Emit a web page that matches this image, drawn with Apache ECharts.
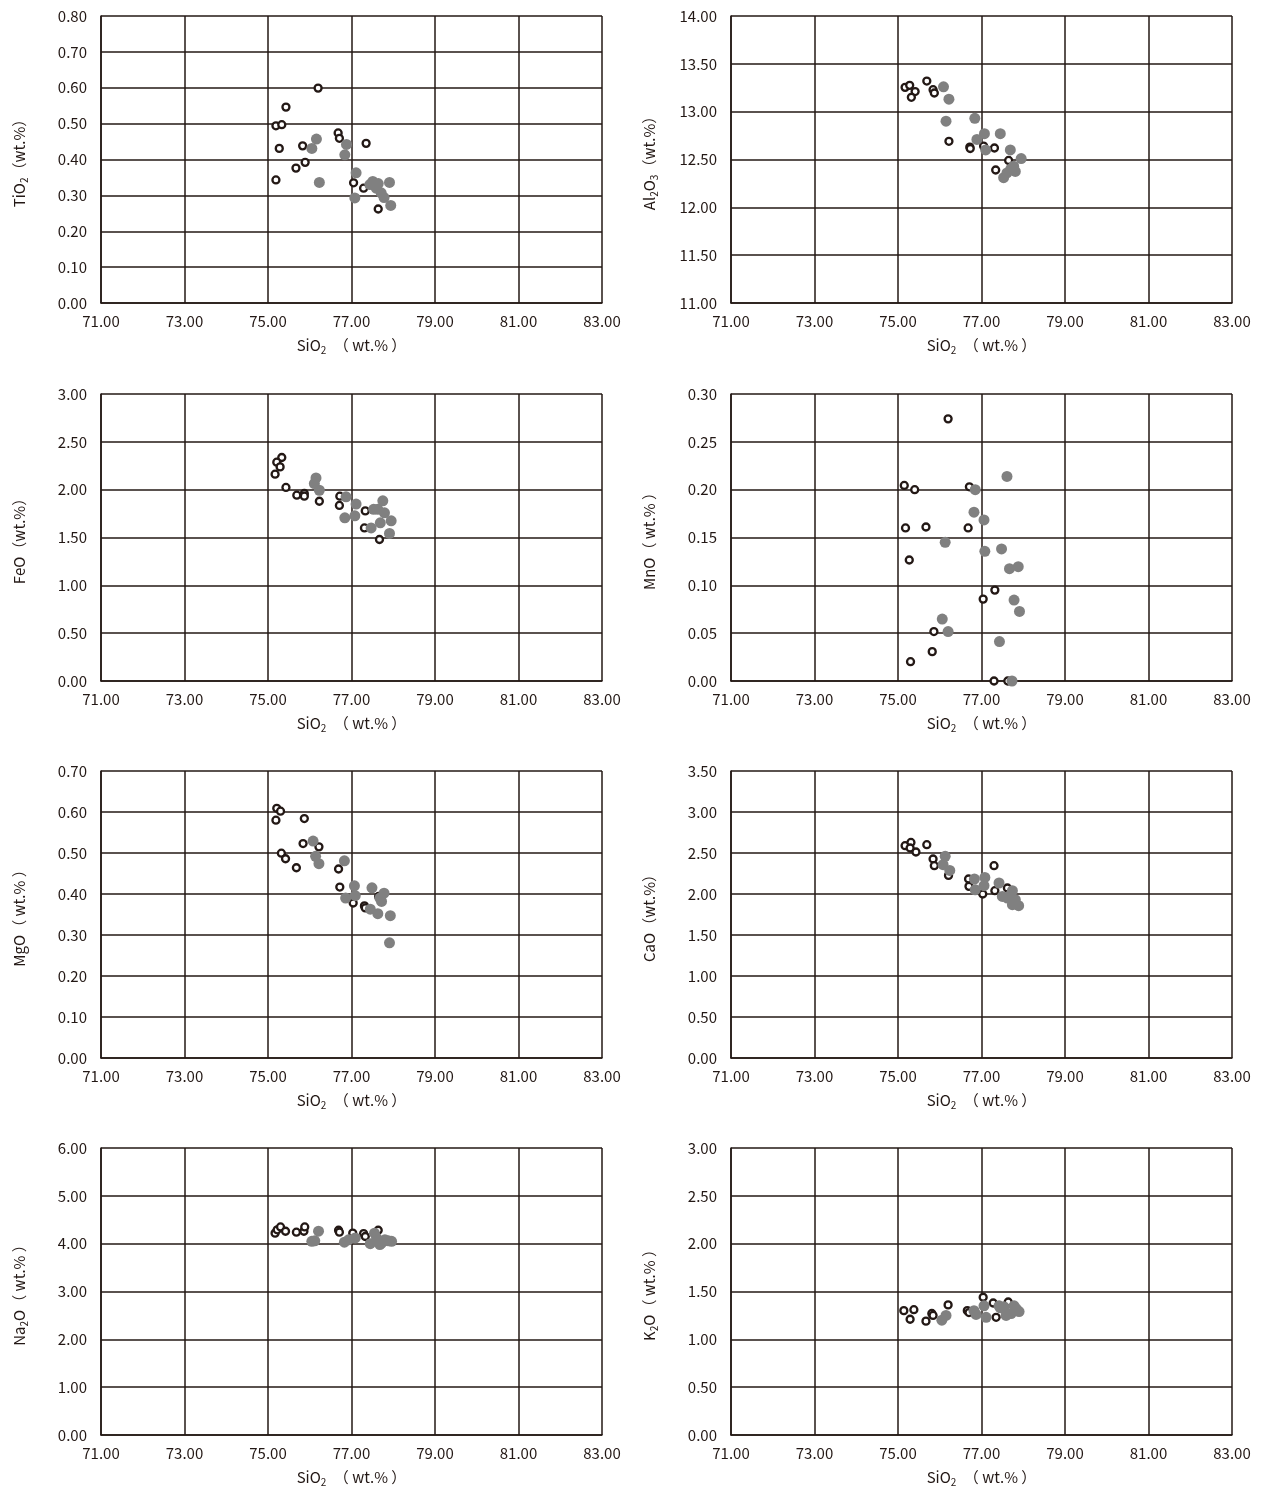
<!DOCTYPE html>
<html>
<head>
<meta charset="utf-8">
<script src="https://cdn.jsdelivr.net/npm/echarts@6/dist/echarts.min.js"></script>
<style>
html,body{margin:0;padding:0;background:#fff;}
#chart{width:1266px;height:1492px;}
</style>
</head>
<body>
<div id="chart"></div>
<script>
// SiO2 axis ticks shared by all eight diagrams
const sio2Ticks = [71, 73, 75, 77, 79, 81, 83];

// Each array holds [SiO2, oxide] pairs (wt.%): open = group A, filled = group B
const tio2Open = [[76.20,0.599],[75.43,0.546],[75.19,0.494],[75.33,0.497],[75.27,0.431],[75.83,0.438],[75.89,0.392],[75.67,0.376],[75.19,0.343],[76.68,0.474],[76.71,0.459],[77.35,0.445],[77.05,0.335],[77.29,0.320],[77.64,0.262]];
const tio2Filled = [[76.16,0.457],[76.05,0.431],[76.23,0.336],[76.88,0.442],[76.84,0.413],[77.11,0.363],[77.08,0.293],[77.51,0.339],[77.44,0.330],[77.64,0.333],[77.91,0.336],[77.71,0.307],[77.78,0.294],[77.94,0.272],[77.59,0.320]];

const al2o3Open = [[75.17,13.254],[75.28,13.275],[75.41,13.21],[75.32,13.15],[75.69,13.32],[75.84,13.23],[75.87,13.195],[76.22,12.69],[76.72,12.63],[76.73,12.615],[77.05,12.64],[77.31,12.62],[77.65,12.49],[77.34,12.39]];
const al2o3Filled = [[76.09,13.26],[76.22,13.13],[76.15,12.90],[76.84,12.93],[77.07,12.77],[77.45,12.77],[76.89,12.71],[77.10,12.60],[77.69,12.60],[77.95,12.51],[77.77,12.43],[77.81,12.375],[77.61,12.36],[77.53,12.31],[77.70,12.40]];

const feoOpen = [[75.33,2.336],[75.21,2.287],[75.29,2.238],[75.17,2.162],[75.43,2.023],[75.69,1.942],[75.87,1.960],[75.87,1.932],[76.23,1.879],[76.72,1.932],[76.71,1.835],[77.33,1.778],[77.31,1.600],[77.67,1.479]];
const feoFilled = [[76.15,2.123],[76.11,2.064],[76.23,1.994],[76.87,1.925],[77.11,1.849],[76.84,1.706],[77.08,1.727],[77.53,1.794],[77.63,1.794],[77.75,1.883],[77.79,1.758],[77.95,1.674],[77.69,1.653],[77.47,1.600],[77.91,1.542]];

const mnoOpen = [[76.20,0.274],[75.15,0.2044],[75.40,0.200],[76.71,0.203],[75.18,0.160],[75.67,0.161],[76.68,0.160],[75.27,0.1265],[77.32,0.095],[77.04,0.0856],[75.86,0.0517],[75.82,0.0307],[75.30,0.0202],[77.30,0.0],[77.63,0.0]];
const mnoFilled = [[77.61,0.2138],[76.85,0.200],[76.82,0.1765],[77.06,0.1684],[76.13,0.145],[77.08,0.1356],[77.48,0.138],[77.67,0.1174],[77.88,0.1195],[77.78,0.0846],[77.91,0.0727],[76.06,0.0647],[76.20,0.0517],[77.43,0.0412],[77.73,0.0]];

const mgoOpen = [[75.21,0.609],[75.30,0.602],[75.19,0.580],[75.87,0.584],[75.84,0.523],[76.22,0.515],[75.32,0.4995],[75.42,0.486],[75.68,0.464],[76.69,0.461],[76.72,0.417],[77.04,0.378],[77.31,0.371],[77.33,0.366],[77.65,0.394]];
const mgoFilled = [[76.08,0.529],[76.14,0.492],[76.22,0.474],[76.83,0.481],[77.07,0.420],[76.86,0.390],[77.09,0.396],[77.49,0.415],[77.78,0.402],[77.72,0.382],[77.68,0.390],[77.45,0.363],[77.63,0.352],[77.93,0.347],[77.91,0.281]];

const caoOpen = [[75.17,2.589],[75.31,2.629],[75.29,2.561],[75.43,2.512],[75.69,2.601],[75.84,2.427],[75.87,2.345],[76.21,2.227],[76.69,2.183],[76.70,2.093],[77.30,2.345],[77.32,2.040],[77.03,2.000],[77.62,2.073]];
const caoFilled = [[76.13,2.459],[76.08,2.357],[76.24,2.288],[76.83,2.183],[77.08,2.202],[77.06,2.101],[76.85,2.052],[77.42,2.134],[77.74,2.040],[77.50,1.971],[77.62,1.951],[77.81,1.930],[77.74,1.870],[77.89,1.857],[77.70,1.990]];

const na2oOpen = [[75.17,4.22],[75.22,4.29],[75.30,4.35],[75.42,4.26],[75.68,4.24],[75.86,4.26],[75.88,4.35],[76.69,4.28],[76.71,4.24],[77.03,4.22],[77.29,4.21],[77.33,4.15],[77.64,4.28]];
const na2oFilled = [[76.21,4.26],[76.12,4.06],[76.83,4.03],[76.93,4.08],[77.09,4.12],[77.45,4.00],[77.55,4.22],[77.60,4.12],[77.72,4.01],[77.80,4.08],[77.88,4.06],[77.96,4.05],[77.68,3.98],[76.05,4.05]];

const k2oOpen = [[75.14,1.30],[75.29,1.21],[75.38,1.31],[75.67,1.19],[75.81,1.27],[75.84,1.25],[76.20,1.36],[76.66,1.30],[76.70,1.28],[77.04,1.44],[77.28,1.38],[77.35,1.23],[77.64,1.39]];
const k2oFilled = [[76.05,1.20],[76.15,1.25],[76.82,1.30],[76.87,1.26],[77.06,1.35],[77.11,1.23],[77.42,1.35],[77.54,1.34],[77.59,1.25],[77.71,1.27],[77.78,1.35],[77.90,1.29],[77.83,1.32],[77.45,1.33]];

// Y-axis settings per diagram: name parts, min, max, interval
const panels = [
  {y: ['TiO', '2', '', '（wt.%）'], min: 0, max: 0.8, step: 0.1, open: tio2Open, filled: tio2Filled},
  {y: ['Al', '2', 'O', '3', '（wt.%）'], min: 11, max: 14, step: 0.5, open: al2o3Open, filled: al2o3Filled},
  {y: ['FeO', '', '', '（wt.%）'], min: 0, max: 3, step: 0.5, open: feoOpen, filled: feoFilled},
  {y: ['MnO', '', '', '（ wt.% ）'], min: 0, max: 0.3, step: 0.05, open: mnoOpen, filled: mnoFilled},
  {y: ['MgO', '', '', '（ wt.% ）'], min: 0, max: 0.7, step: 0.1, open: mgoOpen, filled: mgoFilled},
  {y: ['CaO', '', '', '（wt.%）'], min: 0, max: 3.5, step: 0.5, open: caoOpen, filled: caoFilled},
  {y: ['Na', '2', 'O', '（ wt.% ）'], min: 0, max: 6, step: 1, open: na2oOpen, filled: na2oFilled},
  {y: ['K', '2', 'O', '（ wt.% ）'], min: 0, max: 3, step: 0.5, open: k2oOpen, filled: k2oFilled}
];

const INK = '#231815';
const FONT = '"Noto Sans CJK JP", "Noto Sans", sans-serif';
const rowTops = [16, 394, 771, 1148];
const colLefts = [101, 731];

function yName(p) {
  const parts = p.y;
  if (parts.length === 5) {
    return '{n|' + parts[0] + '}{s|' + parts[1] + '}{n|' + parts[2] + '}{s|' + parts[3] + '}{n|' + parts[4] + '}';
  }
  let t = '{n|' + parts[0] + '}';
  if (parts[1]) t += '{s|' + parts[1] + '}';
  if (parts[2]) t += '{n|' + parts[2] + '}';
  t += '{n|' + parts[3] + '}';
  return t;
}

const richName = {
  n: {fontSize: 15, lineHeight: 20, color: INK, fontFamily: FONT},
  s: {fontSize: 10, lineHeight: 10, verticalAlign: 'bottom', color: INK, fontFamily: FONT}
};

const grids = [], xAxes = [], yAxes = [], series = [];
panels.forEach((p, i) => {
  const row = Math.floor(i / 2), col = i % 2;
  grids.push({left: colLefts[col], top: rowTops[row], width: 501, height: 287});
  xAxes.push({
    type: 'value', gridIndex: i, min: 71, max: 83,
    axisLine: {show: true, lineStyle: {color: INK, width: 1.5}},
    axisTick: {show: false, customValues: sio2Ticks},
    axisLabel: {customValues: sio2Ticks, color: INK, fontSize: 15, fontFamily: FONT, margin: 11,
      formatter: v => v.toFixed(2)},
    splitLine: {show: true, lineStyle: {color: INK, width: 1.5}},
    name: '{n|SiO}{s|2}{n|　（ wt.% ）}', nameLocation: 'middle', nameGap: 32,
    nameTextStyle: {rich: richName}
  });
  yAxes.push({
    type: 'value', gridIndex: i, min: p.min, max: p.max, interval: p.step,
    axisLine: {show: true, lineStyle: {color: INK, width: 1.5}},
    axisTick: {show: false},
    axisLabel: {color: INK, fontSize: 15, fontFamily: FONT, margin: 14, formatter: v => v.toFixed(2)},
    splitLine: {show: true, lineStyle: {color: INK, width: 1.5}},
    name: yName(p), nameLocation: 'middle', nameGap: 72, nameRotate: 90,
    nameTextStyle: {rich: richName}
  });
  series.push({
    type: 'scatter', xAxisIndex: i, yAxisIndex: i, data: p.open,
    symbol: 'circle', symbolSize: 7, z: 3,
    itemStyle: {color: '#ffffff', borderColor: INK, borderWidth: 2.3, opacity: 1}
  });
  series.push({
    type: 'scatter', xAxisIndex: i, yAxisIndex: i, data: p.filled,
    symbol: 'circle', symbolSize: 11, z: 4,
    itemStyle: {color: '#808080', opacity: 1}
  });
});

const chart = echarts.init(document.getElementById('chart'), null, {renderer: 'canvas'});
chart.setOption({
  animation: false,
  backgroundColor: '#ffffff',
  grid: grids, xAxis: xAxes, yAxis: yAxes, series: series
});
</script>
</body>
</html>
